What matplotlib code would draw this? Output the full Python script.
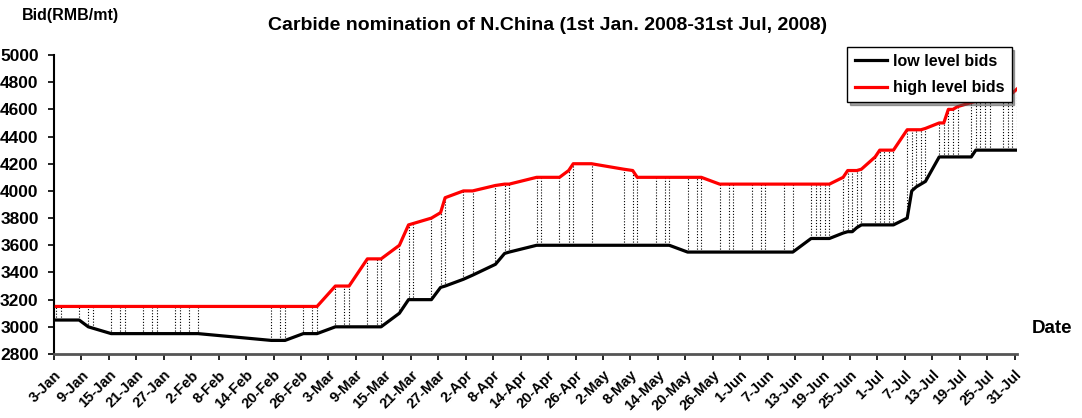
import numpy as np
import matplotlib
matplotlib.use('Agg')
import matplotlib.pyplot as plt
import matplotlib.dates as mdates
from datetime import datetime, timedelta

plt.rcParams['font.family'] = ['Liberation Sans', 'DejaVu Sans']

# observation days (bids published)
dates = ['2008-01-03', '2008-01-04', '2008-01-08', '2008-01-10', '2008-01-11',
         '2008-01-15', '2008-01-17', '2008-01-18', '2008-01-22', '2008-01-24',
         '2008-01-25', '2008-01-29', '2008-01-30', '2008-02-01', '2008-02-03',
         '2008-02-19', '2008-02-21', '2008-02-22', '2008-02-26', '2008-02-28',
         '2008-02-29', '2008-03-04', '2008-03-06', '2008-03-07', '2008-03-11',
         '2008-03-13', '2008-03-14', '2008-03-18', '2008-03-20', '2008-03-21',
         '2008-03-25', '2008-03-27', '2008-03-28', '2008-04-01', '2008-04-03',
         '2008-04-08', '2008-04-10', '2008-04-11', '2008-04-17', '2008-04-18',
         '2008-04-22', '2008-04-24', '2008-04-25', '2008-04-29', '2008-05-06',
         '2008-05-08', '2008-05-09', '2008-05-13', '2008-05-15', '2008-05-16',
         '2008-05-20', '2008-05-22', '2008-05-23', '2008-05-27', '2008-05-29',
         '2008-05-30', '2008-06-03', '2008-06-05', '2008-06-06', '2008-06-10',
         '2008-06-12', '2008-06-16', '2008-06-17', '2008-06-18', '2008-06-19',
         '2008-06-20', '2008-06-23', '2008-06-24', '2008-06-25', '2008-06-26',
         '2008-06-27', '2008-06-30', '2008-07-01', '2008-07-02', '2008-07-03',
         '2008-07-04', '2008-07-07', '2008-07-08', '2008-07-09', '2008-07-10',
         '2008-07-11', '2008-07-14', '2008-07-15', '2008-07-16', '2008-07-17',
         '2008-07-18', '2008-07-21', '2008-07-22', '2008-07-23', '2008-07-24',
         '2008-07-25', '2008-07-28', '2008-07-29', '2008-07-30', '2008-07-31']

low_bids = [3050, 3050, 3050, 3000, 2990,
            2950, 2950, 2950, 2950, 2950,
            2950, 2950, 2950, 2950, 2950,
            2900, 2900, 2900, 2950, 2950,
            2950, 3000, 3000, 3000, 3000,
            3000, 3000, 3100, 3200, 3200,
            3200, 3290, 3300, 3350, 3380,
            3460, 3540, 3550, 3600, 3600,
            3600, 3600, 3600, 3600, 3600,
            3600, 3600, 3600, 3600, 3600,
            3550, 3550, 3550, 3550, 3550,
            3550, 3550, 3550, 3550, 3550,
            3550, 3650, 3650, 3650, 3650,
            3650, 3690, 3700, 3700, 3730,
            3750, 3750, 3750, 3750, 3750,
            3750, 3800, 4000, 4030, 4050,
            4070, 4250, 4250, 4250, 4250,
            4250, 4250, 4300, 4300, 4300,
            4300, 4300, 4300, 4300, 4300]

high_bids = [3150, 3150, 3150, 3150, 3150,
             3150, 3150, 3150, 3150, 3150,
             3150, 3150, 3150, 3150, 3150,
             3150, 3150, 3150, 3150, 3150,
             3150, 3300, 3300, 3300, 3500,
             3500, 3500, 3600, 3750, 3760,
             3800, 3840, 3950, 4000, 4000,
             4040, 4050, 4050, 4100, 4100,
             4100, 4150, 4200, 4200, 4160,
             4150, 4100, 4100, 4100, 4100,
             4100, 4100, 4100, 4050, 4050,
             4050, 4050, 4050, 4050, 4050,
             4050, 4050, 4050, 4050, 4050,
             4050, 4100, 4150, 4150, 4150,
             4160, 4250, 4300, 4300, 4300,
             4300, 4450, 4450, 4450, 4450,
             4460, 4500, 4500, 4600, 4600,
             4620, 4650, 4660, 4680, 4700,
             4700, 4700, 4700, 4720, 4750]

y_ticks = [2800, 3000, 3200, 3400, 3600, 3800, 4000, 4200, 4400, 4600, 4800, 5000]

x = mdates.date2num([datetime.strptime(d, '%Y-%m-%d') for d in dates]) + 0.5
start = datetime(2008, 1, 3)
end = datetime(2008, 7, 31)

fig = plt.figure(figsize=(10.82, 4.18), dpi=100)
ax = fig.add_axes([0.0499, 0.1531, 0.890, 0.7153])

# high-low lines
ax.vlines(x, low_bids, high_bids, colors='black', linestyles=(0, (1, 1.6)), linewidth=0.8, zorder=1)
ax.plot(x, low_bids, color='black', lw=2.3, label='low level bids', zorder=3)
ax.plot(x, high_bids, color='#ff0000', lw=2.3, label='high level bids', zorder=3)

ax.set_ylim(2800, 5000)
ax.set_yticks(y_ticks)
ax.set_yticklabels([str(v) for v in y_ticks], fontsize=12.5, fontweight='bold')

tick_days = [start + timedelta(days=6 * i) for i in range(36)]
ax.set_xticks(mdates.date2num(tick_days))
ax.set_xticklabels([f"{d.day}-{d.strftime('%b')}" for d in tick_days],
                   rotation=45, ha='right', va='top', rotation_mode='anchor',
                   fontsize=10.5, fontweight='bold')
ax.set_xlim(mdates.date2num(start), mdates.date2num(end) + 0.5)

for s in ['top', 'right']:
    ax.spines[s].set_visible(False)
ax.spines['left'].set_linewidth(1.5)
ax.spines['bottom'].set_linewidth(2)
ax.spines['bottom'].set_color('#555555')
ax.tick_params(axis='y', direction='out', length=4, width=1.2, pad=7)
ax.tick_params(axis='x', direction='out', length=4, width=1.2, pad=6)

fig.text(0.506, 0.940, 'Carbide nomination of N.China (1st Jan. 2008-31st Jul, 2008)',
         ha='center', va='center', fontsize=14, fontweight='bold')
fig.text(0.020, 0.962, 'Bid(RMB/mt)', ha='left', va='center', fontsize=11.5, fontweight='bold')
fig.text(0.954, 0.213, 'Date', ha='left', va='center', fontsize=13.5, fontweight='bold')

leg = ax.legend(loc='upper right', bbox_to_anchor=(0.935, 0.888), bbox_transform=fig.transFigure,
                frameon=True, fancybox=False, shadow=True,
                prop={'size': 11.5, 'weight': 'bold'},
                handlelength=2.0, handletextpad=0.4, borderpad=0.45,
                labelspacing=0.7, borderaxespad=0)
leg.get_frame().set_edgecolor('black')
leg.get_frame().set_linewidth(1)

fig.savefig('out.png', dpi=100)
